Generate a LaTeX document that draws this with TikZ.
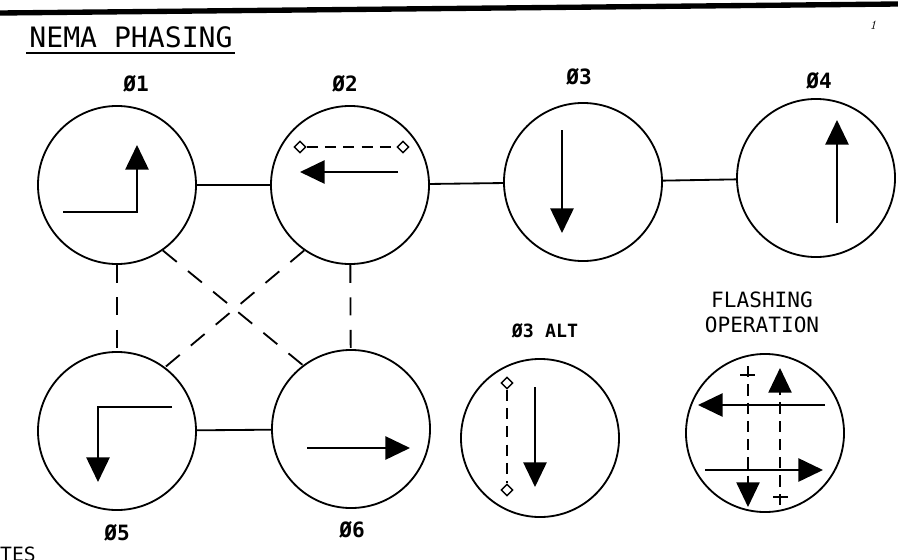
\documentclass[tikz,border=0pt]{standalone}
\usepackage{fontspec}
\setmonofont{DejaVu Sans Mono}
\usetikzlibrary{arrows.meta,shapes.geometric}

\begin{document}
\begin{tikzpicture}[x=0.025cm, y=-0.025cm,
    phase/.style={circle, draw, line width=1.3pt, minimum size=3.95cm, inner sep=0pt},
    link/.style={line width=1.3pt},
    optlink/.style={line width=1.3pt, dash pattern=on 12.8pt off 10.3pt},
    flow/.style={line width=1.4pt, -{Triangle[length=17.5pt,width=16.5pt]}},
    walk/.style={line width=1pt, dash pattern=on 8pt off 5pt},
    pin/.style={diamond, draw, fill=white, line width=1pt, minimum size=8.5pt, inner sep=0pt},
    lbl/.style={font=\ttfamily\bfseries\fontsize{15}{18}\selectfont}]
                \useasboundingbox (0,0) rectangle (898,559);
                \draw[line width=3.8pt] (0,13) -- (898,4);

                \node[font=\ttfamily\fontsize{20}{24}\selectfont] (title) at (131,37) {NEMA PHASING};
                \draw[line width=1.2pt] (26,53) -- (235,53);
                \node[font=\itshape\small] (mark) at (873,25) {1};

                % phase circles
                \node[phase] (p1) at (117,185) {};
                \node[phase] (p2) at (350,185) {};
                \node[phase] (p3) at (583,182) {};
                \node[phase] (p4) at (816,178) {};
                \node[phase] (p5) at (117,431) {};
                \node[phase] (p6) at (351,429) {};
                \node[phase] (p3alt) at (540,438) {};
                \node[phase] (flash) at (765,433) {};

                \node[lbl] (n1) at (136,84) {Ø1};
                \node[lbl] (n2) at (345,84) {Ø2};
                \node[lbl] (n3) at (579,77) {Ø3};
                \node[lbl] (n4) at (819,81) {Ø4};
                \node[lbl] (n5) at (117,533) {Ø5};
                \node[lbl] (n6) at (352,530) {Ø6};
                \node[font=\ttfamily\bfseries\fontsize{13}{16}\selectfont] (n3alt) at (545,331) {Ø3 ALT};
                \node[align=center, font=\ttfamily\fontsize{15}{17.7}\selectfont] (nflash) at (762,312) {FLASHING\\OPERATION};

                \node[anchor=north east, inner sep=0pt, font=\ttfamily\fontsize{14}{17}\selectfont] (notes) at (36,547) {NOTES};

                % rings and compatible pairs
                \draw[link] (p1) -- (p2);
                \draw[link] (p2) -- (p3);
                \draw[link] (p3) -- (p4);
                \draw[link] (p5) -- (p6);
                \draw[optlink] (p1) -- (p5);
                \draw[optlink] (p2) -- (p6);
                \draw[optlink] (p1.-55) -- (p6.127);
                \draw[optlink] (p2.235) -- (p5.53);

                % movements
                \draw[flow] (63,212) -| (137,145);
                \node[pin] (d1) at (300,147) {};
                \node[pin] (d2) at (403,147) {};
                \draw[walk] (d1) -- (d2);
                \draw[flow] (398,172) -- (300,172);
                \draw[flow] (562,130) -- (562,233);
                \draw[flow] (837,223) -- (837,120);
                \draw[flow] (172,407) -| (98,482);
                \draw[flow] (307,448) -- (410,448);

                \node[pin] (d3) at (507,383) {};
                \node[pin] (d4) at (507,490) {};
                \draw[walk] (d3) -- (d4);
                \draw[flow] (535,387) -- (535,487);

                \draw[flow] (825,405) -- (698,405);
                \draw[flow] (705,470) -- (823,470);
                \draw[walk, -{Triangle[length=17.5pt,width=16.5pt]}] (780,505) -- (780,368);
                \draw[walk, -{Triangle[length=17.5pt,width=16.5pt]}] (748,366) -- (748,507);
                \draw[line width=1pt] (773,497) -- (788,497);
                \draw[line width=1pt] (740,375) -- (755,375);
\end{tikzpicture}
\end{document}
